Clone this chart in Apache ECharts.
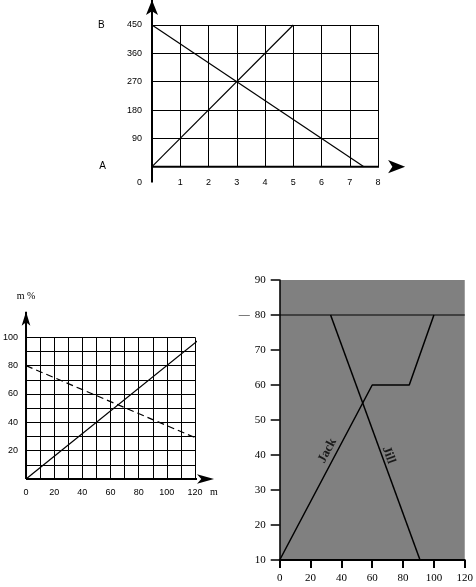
<!DOCTYPE html>
<html><head><meta charset="utf-8">
<script src="https://cdn.jsdelivr.net/npm/echarts@6/dist/echarts.min.js"></script>
<style>html,body{margin:0;padding:0;background:#fff}#c{width:476px;height:587px}</style>
</head><body><div id="c"></div>
<script>
// ---- Chart 1 (top) ----
const c1XMax = 8;
const c1YMax = 450;
const c1YStep = 90;
const c1LineUp = [[0, 0], [5, 450]];
const c1LineDown = [[0, 450], [7.5, 0]];
const c1YLabelTop = 'B';
const c1YLabelBottom = 'A';
// ---- Chart 2 (bottom left) ----
const c2XMax = 120;
const c2YMax = 100;
const c2Solid = [[0, 0], [128, 102.5]];
const c2Dashed = [[0, 80], [130, 25]];
const c2XName = 'm';
const c2YName = 'm %';
// ---- Chart 3 (bottom right) ----
const c3XMax = 120;
const c3YMin = 10;
const c3YMax = 90;
const c3Jack = [[0, 10], [60, 60], [84, 60], [100, 80]];
const c3Jill = [[33, 80], [91, 10]];
const c3Level = [[0, 80], [120, 80]];
const c3Names = ['Jack', 'Jill'];

const SANS = '"Liberation Sans", Arial, sans-serif';
const SERIF = '"Liberation Serif", "Times New Roman", serif';
const BLACK = '#000';

const chart = echarts.init(document.getElementById('c'), null, {renderer: 'canvas'});

function gridLine() { return {show: true, lineStyle: {color: BLACK, width: 1}}; }
function arrowAxis(xi, from, to, size, rot) {
  return {
    type: 'line', xAxisIndex: xi, yAxisIndex: xi, clip: false, silent: true,
    symbol: 'none', showSymbol: true, animation: false,
    lineStyle: {color: BLACK, width: 2}, itemStyle: {color: BLACK},
    data: [from, {value: to, symbol: 'arrow', symbolSize: size, symbolRotate: rot}]
  };
}
function plain(xi, data, extra) {
  return Object.assign({
    type: 'line', xAxisIndex: xi, yAxisIndex: xi, clip: false, symbol: 'none',
    animation: false, silent: true,
    lineStyle: {color: BLACK, width: 1.2}, data: data
  }, extra || {});
}

const option = {
  backgroundColor: '#fff',
  animation: false,
  grid: [
    {left: 152, top: 25, width: 226, height: 141.7},
    {left: 25, top: 337.3, width: 170, height: 141.7},
    {left: 279.7, top: 280, width: 186.3, height: 280, show: true, backgroundColor: '#808080', borderWidth: 0}
  ],
  xAxis: [
    {gridIndex: 0, type: 'value', min: 0, max: c1XMax, interval: 1,
     axisLine: {show: false}, axisTick: {show: false}, splitLine: gridLine(),
     axisLabel: {margin: 11, fontSize: 9, fontFamily: SANS, color: BLACK, showMinLabel: true, showMaxLabel: true,
       formatter: v => v === 0 ? '{z|0}' : String(v),
       rich: {z: {padding: [0, 25, 0, 0], fontSize: 9, fontFamily: SANS, color: BLACK}}}},
    {gridIndex: 1, type: 'value', min: 0, max: c2XMax, interval: 10,
     axisLine: {show: false}, axisTick: {show: false}, splitLine: gridLine(),
     axisLabel: {margin: 9, fontSize: 9, fontFamily: SANS, color: BLACK, showMinLabel: true, showMaxLabel: true,
       formatter: v => v % 20 === 0 ? String(v) : ''},
     name: c2XName, nameLocation: 'end', nameGap: 15,
     nameTextStyle: {fontFamily: SERIF, fontSize: 10, color: BLACK, verticalAlign: 'top', align: 'left', padding: [8, 0, 0, 0]}},
    {gridIndex: 2, type: 'value', min: 0, max: c3XMax, interval: 20,
     axisLine: {show: true, onZero: false, lineStyle: {color: BLACK, width: 2}},
     axisTick: {show: true, length: 8, lineStyle: {color: BLACK, width: 2}},
     splitLine: {show: false},
     axisLabel: {margin: 13, fontSize: 11, fontFamily: SERIF, color: BLACK, showMinLabel: true, showMaxLabel: true}}
  ],
  yAxis: [
    {gridIndex: 0, type: 'value', min: 0, max: c1YMax, interval: c1YStep,
     axisLine: {show: false}, axisTick: {show: false}, splitLine: gridLine(),
     axisLabel: {margin: 10, fontSize: 9, fontFamily: SANS, color: BLACK, showMinLabel: true, showMaxLabel: true,
       formatter: v => v === c1YMax ? '{b|' + c1YLabelTop + '}{n|' + v + '}' : (v === 0 ? '{a|' + c1YLabelBottom + '}' : '{n|' + v + '}'),
       rich: {
         b: {width: 29, align: 'left', fontSize: 10, fontFamily: SANS, color: BLACK},
         n: {fontSize: 9, fontFamily: SANS, color: BLACK},
         a: {padding: [0, 36, 0, 0], fontSize: 10, fontFamily: SANS, color: BLACK}
       }}},
    {gridIndex: 1, type: 'value', min: 0, max: c2YMax, interval: 10,
     axisLine: {show: false}, axisTick: {show: false}, splitLine: gridLine(),
     axisLabel: {margin: 8, fontSize: 9, fontFamily: SANS, color: BLACK, showMinLabel: true, showMaxLabel: true,
       formatter: v => (v % 20 === 0 && v > 0) ? String(v) : ''},
     name: c2YName, nameLocation: 'end', nameGap: 36,
     nameTextStyle: {fontFamily: SERIF, fontSize: 10, color: BLACK}},
    {gridIndex: 2, type: 'value', min: c3YMin, max: c3YMax, interval: 10,
     axisLine: {show: true, onZero: false, lineStyle: {color: BLACK, width: 1.5}},
     axisTick: {show: true, length: 9, lineStyle: {color: BLACK, width: 1.5}},
     splitLine: {show: false},
     axisLabel: {margin: 14, fontSize: 11, fontFamily: SERIF, color: BLACK, showMinLabel: true, showMaxLabel: true,
       formatter: v => v === 80 ? '{d|\u2014}{n|80}' : '{n|' + v + '}',
       rich: {d: {width: 16, align: 'left', fontSize: 11, fontFamily: SERIF, color: BLACK},
              n: {fontSize: 11, fontFamily: SERIF, color: BLACK}}}}
  ],
  series: [
    // chart 1
    arrowAxis(0, [-0.5, 0], [8.96, 0], [10, 17], -90),
    arrowAxis(0, [0, -50], [0, 529], [9, 15], 0),
    plain(0, c1LineUp),
    plain(0, c1LineDown),
    // chart 2
    arrowAxis(1, [0, 0], [133.5, 0], [7, 17], -90),
    arrowAxis(1, [0, 0], [0, 118], [6.5, 14], 0),
    plain(1, c2Solid),
    plain(1, c2Dashed, {lineStyle: {color: BLACK, width: 1.2, type: [7, 4]}}),
    // chart 3
    plain(2, c3Level, {lineStyle: {color: BLACK, width: 1.2}}),
    plain(2, c3Jack, {name: c3Names[0], lineStyle: {color: BLACK, width: 1.5}}),
    plain(2, c3Jill, {name: c3Names[1], lineStyle: {color: BLACK, width: 1.5}}),
    {type: 'scatter', xAxisIndex: 2, yAxisIndex: 2, silent: true, symbolSize: 1,
     itemStyle: {color: 'rgba(0,0,0,0)'},
     label: {show: true, position: 'inside', formatter: '{b}', fontFamily: SERIF, fontWeight: 'bold', fontSize: 13, color: BLACK},
     data: [
       {name: c3Names[0], value: [30.9, 41.2], label: {rotate: 62}},
       {name: c3Names[1], value: [70.7, 40], label: {rotate: -70}}
     ]}
  ]
};
chart.setOption(option);
</script>
</body></html>
